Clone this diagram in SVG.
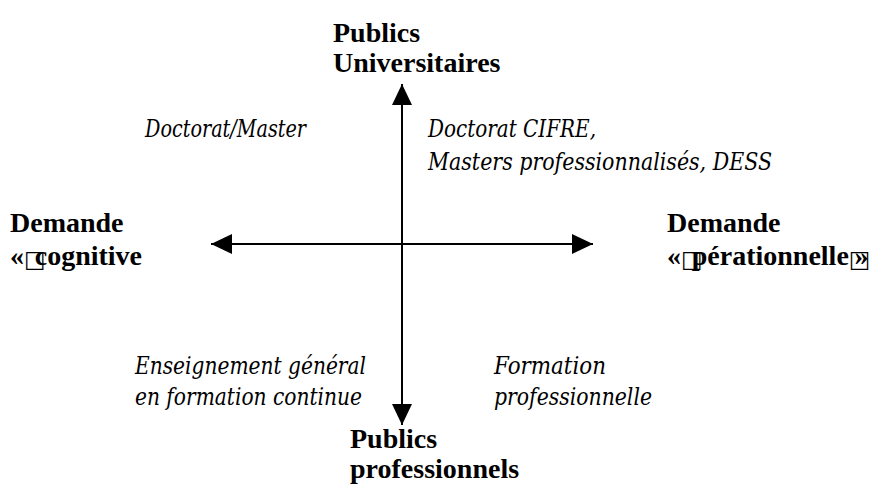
<svg xmlns="http://www.w3.org/2000/svg" width="882" height="484" viewBox="0 0 882 484">
<defs>
<style>
.b{font-family:"Liberation Serif","Times New Roman",serif;font-weight:bold;font-size:28px;fill:#000}
.i{font-family:"DejaVu Serif",serif;font-style:italic;font-size:24px;fill:#000}
.box{font-family:"DejaVu Sans",sans-serif;font-weight:normal;font-size:23px}
.ax{stroke:#000;stroke-width:2;fill:none}
</style>
<marker id="ah" markerUnits="userSpaceOnUse" markerWidth="21" markerHeight="20" refX="21" refY="10" orient="auto-start-reverse" viewBox="0 0 21 20">
<path d="M0,0 L21,10 L0,20 z" fill="#000"/>
</marker>
</defs>
<rect width="882" height="484" fill="#fff"/>
<g id="connectors">
<line class="ax" x1="211" y1="244" x2="593" y2="244" marker-start="url(#ah)" marker-end="url(#ah)"/>
<line class="ax" x1="402" y1="84" x2="402" y2="425" marker-start="url(#ah)" marker-end="url(#ah)"/>
</g>
<g id="top">
<text class="b" x="333" y="42">Publics</text>
<text class="b" x="333" y="72">Universitaires</text>
</g>
<g id="bottom">
<text class="b" x="350" y="448">Publics</text>
<text class="b" x="350" y="478">professionnels</text>
</g>
<g id="left">
<text class="b" x="10" y="232">Demande</text>
<text class="b" x="10" y="265">«<tspan class="box" dy="2">□</tspan><tspan dx="-11" dy="-2">cognitive</tspan></text>
</g>
<g id="right">
<text class="b" x="667" y="232">Demande</text>
<text class="b" x="667" y="265">«<tspan class="box" dy="2">□</tspan><tspan dx="-11" dy="-2">pérationnelle</tspan><tspan class="box" dy="2">□</tspan><tspan dx="-16" dy="-2">»</tspan></text>
</g>
<g id="q1">
<text class="i" x="145" y="137" textLength="161" lengthAdjust="spacingAndGlyphs">Doctorat/Master</text>
</g>
<g id="q2">
<text class="i" x="428" y="137" textLength="168" lengthAdjust="spacingAndGlyphs">Doctorat CIFRE,</text>
<text class="i" x="428" y="170" textLength="344" lengthAdjust="spacingAndGlyphs">Masters professionnalisés, DESS</text>
</g>
<g id="q3">
<text class="i" x="135" y="374" textLength="231" lengthAdjust="spacingAndGlyphs">Enseignement général</text>
<text class="i" x="135" y="405" textLength="227" lengthAdjust="spacingAndGlyphs">en formation continue</text>
</g>
<g id="q4">
<text class="i" x="494" y="374" textLength="112" lengthAdjust="spacingAndGlyphs">Formation</text>
<text class="i" x="494" y="405" textLength="158" lengthAdjust="spacingAndGlyphs">professionnelle</text>
</g>
</svg>
